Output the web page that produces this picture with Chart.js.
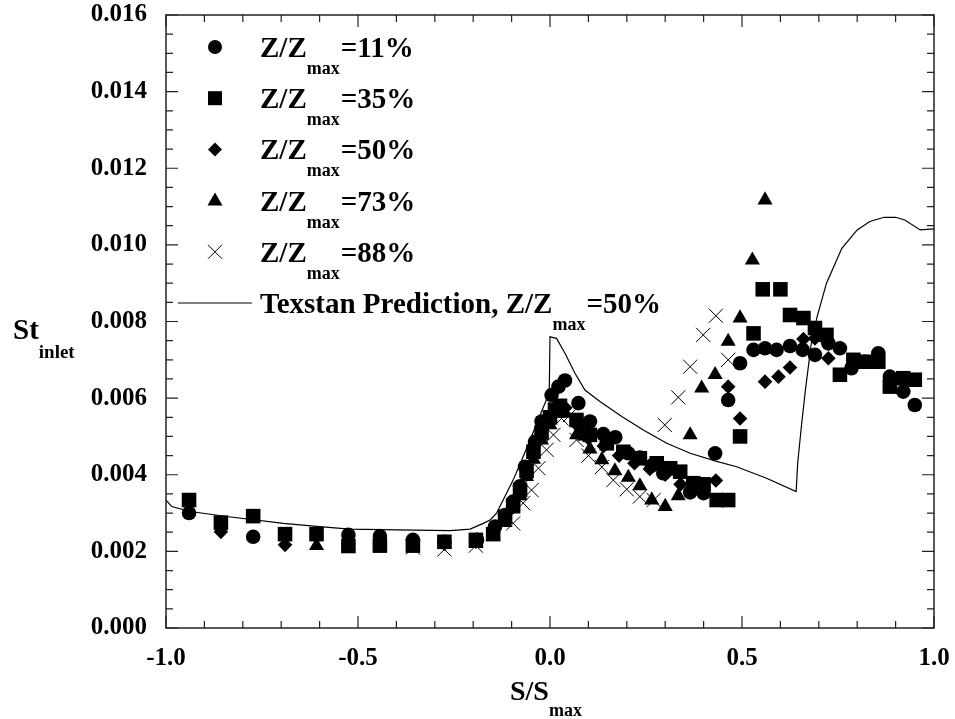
<!DOCTYPE html>
<html>
<head>
<meta charset="utf-8">
<script src="https://cdn.jsdelivr.net/npm/chart.js@4"></script>
<style>
  html, body { margin: 0; padding: 0; background: #fff; }
  #chart { display: block; }
</style>
</head>
<body>
<canvas id="chart" width="955" height="719"></canvas>
<script>
// Axis ticks
const xTicks = [-1.0, -0.5, 0.0, 0.5, 1.0];
const yTicks = [0, 0.002, 0.004, 0.006, 0.008, 0.010, 0.012, 0.014, 0.016];

// Z/Zmax = 11%  (circles)
const z11X = [-0.94, -0.773, -0.525, -0.443, -0.357, -0.275, -0.19, -0.143, -0.117, -0.096, -0.078, -0.065, -0.039, -0.022, 0.004, 0.022, 0.039, 0.074, 0.104, 0.139, 0.17, 0.204, 0.234, 0.265, 0.295, 0.365, 0.4, 0.43, 0.464, 0.495, 0.53, 0.56, 0.59, 0.625, 0.658, 0.69, 0.725, 0.755, 0.785, 0.82, 0.855, 0.885, 0.92, 0.95];
const z11Y = [3.0, 2.38, 2.43, 2.4, 2.3, 2.25, 2.3, 2.65, 2.95, 3.3, 3.7, 4.21, 4.86, 5.39, 6.08, 6.3, 6.46, 5.87, 5.39, 5.06, 4.98, 4.56, 4.45, 4.24, 4.04, 3.54, 3.52, 4.56, 5.95, 6.91, 7.26, 7.3, 7.26, 7.36, 7.26, 7.13, 7.43, 7.3, 6.78, 6.95, 7.17, 6.56, 6.17, 5.82];

// Z/Zmax = 35%  (squares)
const z35X = [-0.94, -0.857, -0.773, -0.69, -0.608, -0.525, -0.443, -0.357, -0.275, -0.193, -0.148, -0.117, -0.096, -0.078, -0.061, -0.043, -0.022, 0.0, 0.013, 0.026, 0.069, 0.091, 0.104, 0.148, 0.191, 0.234, 0.278, 0.313, 0.339, 0.373, 0.4, 0.434, 0.464, 0.495, 0.53, 0.554, 0.6, 0.625, 0.66, 0.69, 0.72, 0.755, 0.79, 0.82, 0.855, 0.885, 0.92, 0.95];
const z35Y = [3.34, 2.75, 2.92, 2.45, 2.45, 2.14, 2.15, 2.15, 2.25, 2.3, 2.45, 2.9, 3.2, 3.6, 4.1, 4.6, 5.1, 5.5, 5.7, 5.8, 5.43, 5.08, 5.04, 4.82, 4.6, 4.43, 4.3, 4.17, 4.08, 3.78, 3.75, 3.34, 3.34, 5.0, 7.69, 8.84, 8.84, 8.17, 8.09, 7.83, 7.65, 6.61, 7.0, 6.95, 6.95, 6.3, 6.52, 6.48];

// Z/Zmax = 50%  (diamonds)
const z50X = [-0.857, -0.69, -0.525, -0.443, -0.357, -0.275, -0.193, -0.148, -0.117, -0.096, -0.078, -0.061, -0.043, -0.022, 0.0, 0.02, 0.04, 0.07, 0.1, 0.14, 0.18, 0.22, 0.26, 0.3, 0.34, 0.37, 0.395, 0.432, 0.464, 0.495, 0.56, 0.595, 0.625, 0.66, 0.69, 0.725];
const z50Y = [2.51, 2.17, 2.2, 2.2, 2.2, 2.2, 2.25, 2.5, 2.85, 3.15, 3.55, 4.0, 4.5, 5.0, 5.4, 5.7, 5.75, 5.3, 4.95, 4.75, 4.5, 4.3, 4.15, 4.0, 3.75, 3.6, 3.56, 3.85, 6.3, 5.47, 6.43, 6.56, 6.8, 7.54, 7.56, 7.04];

// Z/Zmax = 73%  (triangles)
const z73X = [-0.608, -0.525, -0.443, -0.357, -0.275, -0.193, -0.148, -0.117, -0.096, -0.078, -0.061, -0.043, -0.022, 0.0, 0.02, 0.04, 0.069, 0.104, 0.135, 0.169, 0.204, 0.234, 0.265, 0.3, 0.334, 0.365, 0.395, 0.43, 0.464, 0.495, 0.527, 0.56];
const z73Y = [2.15, 2.15, 2.15, 2.15, 2.2, 2.2, 2.4, 2.75, 3.1, 3.45, 3.95, 4.4, 4.9, 5.3, 5.6, 5.6, 5.04, 4.67, 4.39, 4.1, 3.93, 3.71, 3.34, 3.17, 3.45, 5.04, 6.26, 6.61, 7.48, 8.09, 9.6, 11.17];

// Z/Zmax = 88%  (crosses)
const z88X = [-0.357, -0.275, -0.193, -0.096, -0.07, -0.048, -0.03, -0.009, 0.009, 0.03, 0.052, 0.069, 0.1, 0.135, 0.165, 0.2, 0.234, 0.27, 0.299, 0.334, 0.365, 0.399, 0.432, 0.464];
const z88Y = [2.1, 2.05, 2.15, 2.73, 3.26, 3.6, 4.17, 4.65, 5.04, 5.47, 5.56, 4.91, 4.5, 4.2, 3.86, 3.62, 3.43, 3.34, 5.3, 6.02, 6.82, 7.65, 8.15, 7.0];

// Texstan prediction, Z/Zmax = 50%
const texX = [-1.0, -0.985, -0.937, -0.842, -0.694, -0.608, -0.521, -0.4, -0.26, -0.208, -0.174, -0.156, -0.139, -0.122, -0.096, -0.07, -0.043, -0.022, -0.002, 0.0, 0.017, 0.039, 0.065, 0.091, 0.13, 0.187, 0.243, 0.304, 0.365, 0.434, 0.486, 0.564, 0.641, 0.645, 0.655, 0.665, 0.68, 0.695, 0.72, 0.76, 0.8, 0.833, 0.87, 0.9, 0.924, 0.964, 1.0];
const texY = [3.34, 3.17, 3.04, 2.91, 2.73, 2.65, 2.58, 2.56, 2.54, 2.58, 2.73, 2.82, 3.0, 3.34, 3.86, 4.47, 5.13, 5.65, 6.13, 7.6, 7.56, 7.17, 6.65, 6.21, 5.91, 5.52, 5.17, 4.82, 4.56, 4.35, 4.21, 3.91, 3.56, 4.3, 5.3, 6.2, 7.4, 8.1, 9.0, 9.91, 10.39, 10.61, 10.72, 10.72, 10.65, 10.39, 10.42];

const pts = (xs, ys) => xs.map((x, i) => ({ x: x, y: ys[i] / 1000 }));

const serif = '"Liberation Serif", "Times New Roman", serif';

// marker drawer for the hand-made legend
function drawMarker(ctx, style, x, y) {
    ctx.save();
    ctx.fillStyle = '#000';
    ctx.strokeStyle = '#000';
    ctx.beginPath();
    if (style === 'circle') {
        ctx.arc(x, y, 7, 0, Math.PI * 2);
        ctx.fill();
    } else if (style === 'rect') {
        ctx.fillRect(x - 7, y - 7, 14, 14);
    } else if (style === 'rectRot') {
        ctx.moveTo(x - 7, y); ctx.lineTo(x, y - 7); ctx.lineTo(x + 7, y); ctx.lineTo(x, y + 7);
        ctx.closePath(); ctx.fill();
    } else if (style === 'triangle') {
        ctx.moveTo(x, y - 8); ctx.lineTo(x + 7.5, y + 5); ctx.lineTo(x - 7.5, y + 5);
        ctx.closePath(); ctx.fill();
    } else if (style === 'crossRot') {
        ctx.lineWidth = 1;
        ctx.moveTo(x - 7, y - 7); ctx.lineTo(x + 7, y + 7);
        ctx.moveTo(x + 7, y - 7); ctx.lineTo(x - 7, y + 7);
        ctx.stroke();
    }
    ctx.restore();
}

// text like "Z/Z" + subscript "max" + "=11%"
function drawSubText(ctx, x, y, parts, big, small, drop) {
    let cx = x;
    parts.forEach((p, i) => {
        const sub = i % 2 === 1;
        ctx.font = 'bold ' + (sub ? small : big) + 'px ' + serif;
        ctx.fillText(p, cx, sub ? y + drop : y);
        cx += ctx.measureText(p).width + (sub ? 1 : 0);
    });
}

const legendRows = [
    { style: 'circle', parts: ['Z/Z', 'max', '=11%'] },
    { style: 'rect', parts: ['Z/Z', 'max', '=35%'] },
    { style: 'rectRot', parts: ['Z/Z', 'max', '=50%'] },
    { style: 'triangle', parts: ['Z/Z', 'max', '=73%'] },
    { style: 'crossRot', parts: ['Z/Z', 'max', '=88%'] },
    { style: 'line', parts: ['Texstan Prediction, Z/Z', 'max', '=50%'] }
];

const framePlugin = {
    id: 'frame',
    afterDraw(chart) {
        const ctx = chart.ctx;
        const a = chart.chartArea;
        const xs = chart.scales.x, ys = chart.scales.y;
        ctx.save();
        ctx.strokeStyle = '#222';
        ctx.lineWidth = 1.5;
        ctx.strokeRect(a.left, a.top, a.right - a.left, a.bottom - a.top);

        // inward ticks on all four sides
        ctx.lineWidth = 1.2;
        ctx.beginPath();
        for (let i = 0; i <= 20; i++) {
            const v = -1 + i * 0.1;
            const px = xs.getPixelForValue(v);
            const len = i % 5 === 0 ? 12 : 7;
            ctx.moveTo(px, a.bottom); ctx.lineTo(px, a.bottom - len);
            ctx.moveTo(px, a.top); ctx.lineTo(px, a.top + len);
        }
        for (let i = 0; i <= 32; i++) {
            const v = i * 0.0005;
            const py = ys.getPixelForValue(v);
            const len = i % 4 === 0 ? 12 : 7;
            ctx.moveTo(a.left, py); ctx.lineTo(a.left + len, py);
            ctx.moveTo(a.right, py); ctx.lineTo(a.right - len, py);
        }
        ctx.stroke();

        // axis titles
        ctx.fillStyle = '#000';
        ctx.textBaseline = 'alphabetic';
        drawSubText(ctx, 13, 339, ['St', 'inlet'], 29, 19, 19);
        drawSubText(ctx, 510, 700, ['S/S', 'max'], 28, 18, 16);

        // legend
        legendRows.forEach((r, i) => {
            const y = 47 + i * 51.2;
            if (r.style === 'line') {
                ctx.beginPath();
                ctx.lineWidth = 1.2;
                ctx.strokeStyle = '#000';
                ctx.moveTo(178, y); ctx.lineTo(252, y);
                ctx.stroke();
            } else {
                drawMarker(ctx, r.style, 215, y);
            }
            drawSubText(ctx, 260, y + 10, r.parts, 29, 18, 17);
        });
        ctx.restore();
    }
};

const tickFont = { family: serif, weight: 'bold', size: 25 };

new Chart(document.getElementById('chart'), {
    type: 'scatter',
    data: {
        datasets: [
            {
                label: 'Texstan Prediction, Z/Zmax=50%',
                data: pts(texX, texY),
                showLine: true,
                borderColor: '#000',
                borderWidth: 1.2,
                pointRadius: 0,
                tension: 0
            },
            {
                label: 'Z/Zmax=11%',
                data: pts(z11X, z11Y),
                pointStyle: 'circle',
                pointRadius: 7.3,
                backgroundColor: '#000',
                borderColor: '#000',
                borderWidth: 0
            },
            {
                label: 'Z/Zmax=35%',
                data: pts(z35X, z35Y),
                pointStyle: 'rect',
                pointRadius: 10.3,
                backgroundColor: '#000',
                borderColor: '#000',
                borderWidth: 0
            },
            {
                label: 'Z/Zmax=50%',
                data: pts(z50X, z50Y),
                pointStyle: 'rectRot',
                pointRadius: 7.3,
                backgroundColor: '#000',
                borderColor: '#000',
                borderWidth: 0
            },
            {
                label: 'Z/Zmax=73%',
                data: pts(z73X, z73Y),
                pointStyle: 'triangle',
                pointRadius: 8.7,
                backgroundColor: '#000',
                borderColor: '#000',
                borderWidth: 0
            },
            {
                label: 'Z/Zmax=88%',
                data: pts(z88X, z88Y),
                pointStyle: 'crossRot',
                pointRadius: 10,
                backgroundColor: '#000',
                borderColor: '#000',
                borderWidth: 1
            }
        ]
    },
    options: {
        responsive: false,
        animation: false,
        layout: { padding: { top: 15, right: 21, left: 0, bottom: 0 } },
        plugins: {
            legend: { display: false },
            tooltip: { enabled: false }
        },
        scales: {
            x: {
                type: 'linear',
                min: -1,
                max: 1,
                afterBuildTicks: (s) => { s.ticks = xTicks.map(v => ({ value: v })); },
                afterFit: (s) => { s.height = 91; s.paddingLeft = 0; s.paddingRight = 0; },
                grid: { display: false, drawTicks: false },
                border: { display: false },
                ticks: {
                    padding: 16,
                    color: '#000',
                    font: tickFont,
                    maxRotation: 0,
                    callback: (v) => Number(v).toFixed(1)
                }
            },
            y: {
                type: 'linear',
                min: 0,
                max: 0.016,
                afterBuildTicks: (s) => { s.ticks = yTicks.map(v => ({ value: v })); },
                afterFit: (s) => { s.width = 166; s.paddingTop = 0; s.paddingBottom = 0; },
                grid: { display: false, drawTicks: false },
                border: { display: false },
                ticks: {
                    padding: 19,
                    color: '#000',
                    font: tickFont,
                    callback: (v) => Number(v).toFixed(3)
                }
            }
        }
    },
    plugins: [framePlugin]
});
</script>
</body>
</html>
